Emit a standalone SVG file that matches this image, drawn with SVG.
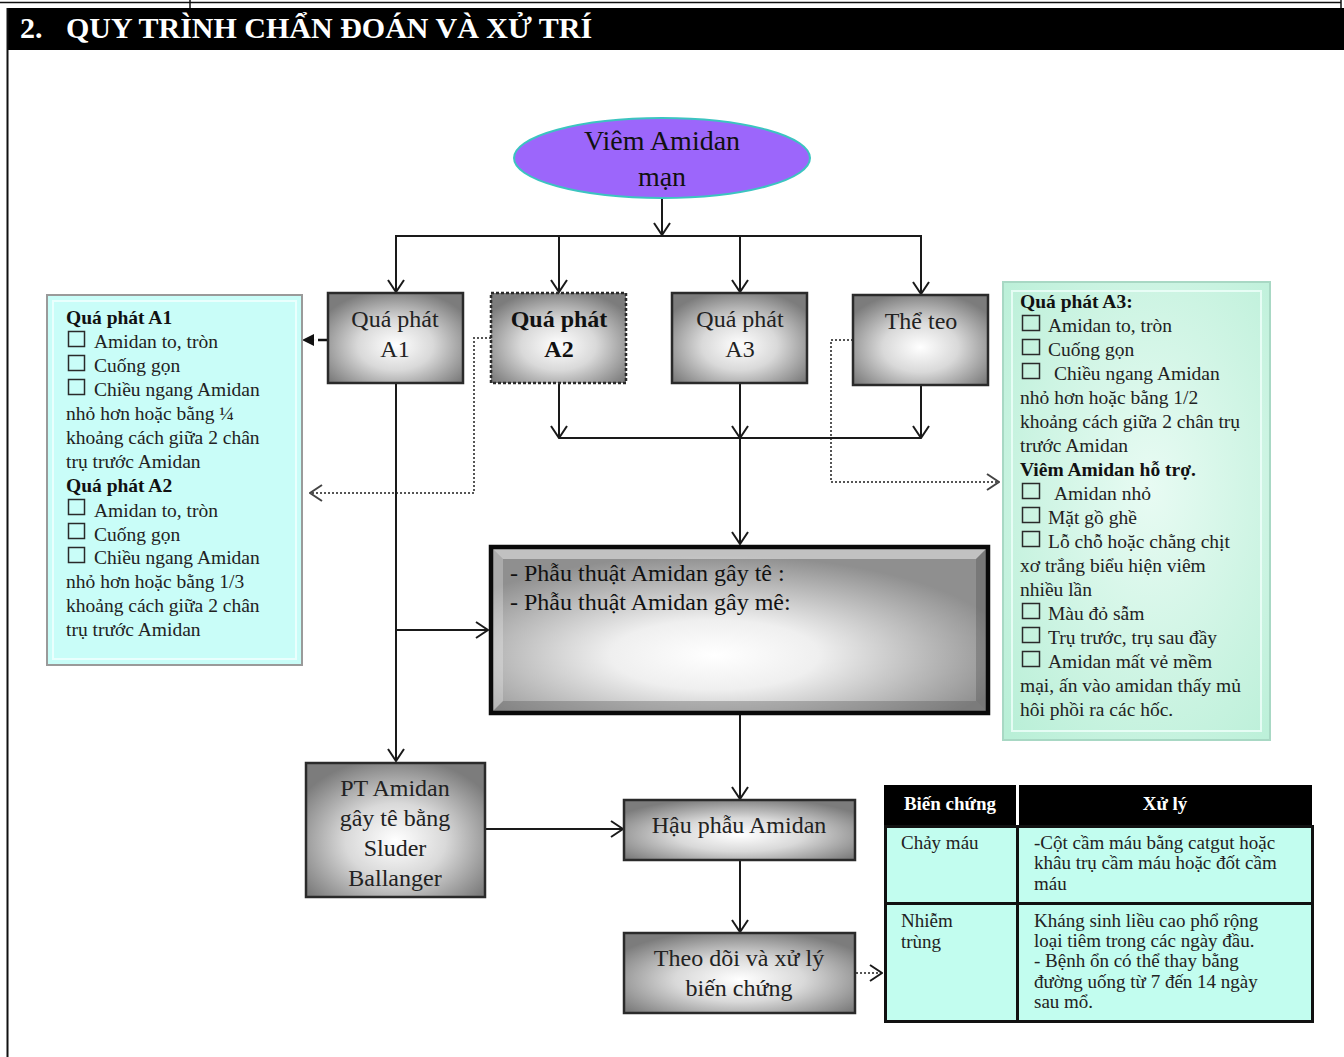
<svg xmlns="http://www.w3.org/2000/svg" width="1344" height="1057" viewBox="0 0 1344 1057">
  <style>
    text { font-family: "Liberation Serif", "Times New Roman", serif; fill: #1a1a1a; }
    .title { font-size: 30px; font-weight: bold; fill: #ffffff; }
    .oval { font-size: 28px; text-anchor: middle; fill: #111; }
    .box { font-size: 24px; text-anchor: middle; fill: #222; }
    .boxb { font-size: 24px; text-anchor: middle; font-weight: bold; fill: #111; }
    .main { font-size: 24px; fill: #111; }
    .note { font-size: 19.5px; fill: #222; }
    .noteb { font-size: 19.5px; font-weight: bold; fill: #111; }
    .th { font-size: 19px; font-weight: bold; fill: #ffffff; text-anchor: middle; }
    .td { font-size: 19px; fill: #222; }
    .gbox { fill: url(#boxGrad); stroke: #2a2a2a; stroke-width: 2.5; }
    .chk { fill: none; stroke: #2a2a2a; stroke-width: 1.5; }
    .link { fill: none; stroke: #1a1a1a; stroke-width: 2; }
    .dot { fill: none; stroke: #555; stroke-width: 2; stroke-dasharray: 2 2; }
    .cell { fill: #c2fdef; stroke: #111; stroke-width: 3; }
  </style>
  <defs>
    <radialGradient id="boxGrad" cx="50%" cy="58%" r="62%">
      <stop offset="0" stop-color="#ffffff"/>
      <stop offset="0.45" stop-color="#d9d9d9"/>
      <stop offset="1" stop-color="#7c7c7c"/>
    </radialGradient>
    <radialGradient id="mainGrad" cx="45%" cy="65%" r="60%">
      <stop offset="0" stop-color="#ffffff"/>
      <stop offset="0.35" stop-color="#efefef"/>
      <stop offset="1" stop-color="#8f8f8f"/>
    </radialGradient>
    <radialGradient id="mintGrad" cx="55%" cy="45%" r="75%">
      <stop offset="0" stop-color="#e8fbf3"/>
      <stop offset="1" stop-color="#b9efd7"/>
    </radialGradient>
    <marker id="arr" viewBox="0 0 14 18" refX="13" refY="9" markerWidth="14" markerHeight="18" markerUnits="userSpaceOnUse" orient="auto">
      <path d="M1,1 L13,9 L1,17" fill="none" stroke="#1a1a1a" stroke-width="2"/>
    </marker>
    <marker id="arrDot" viewBox="0 0 14 18" refX="13" refY="9" markerWidth="14" markerHeight="18" markerUnits="userSpaceOnUse" orient="auto">
      <path d="M1,1 L13,9 L1,17" fill="none" stroke="#444" stroke-width="2"/>
    </marker>
    <marker id="arrFill" viewBox="0 0 12 12" refX="11" refY="6" markerWidth="12" markerHeight="12" markerUnits="userSpaceOnUse" orient="auto">
      <path d="M0,0 L12,6 L0,12 Z" fill="#111"/>
    </marker>
  </defs>

  <rect width="1344" height="1057" fill="#ffffff"/>

  <!-- page frame and heading bar -->
  <g id="heading">
    <line x1="0" y1="2.5" x2="1341" y2="2.5" stroke="#111" stroke-width="1.5"/>
    <line x1="190" y1="0" x2="190" y2="8" stroke="#111" stroke-width="1.5"/>
    <line x1="1341" y1="0" x2="1341" y2="8" stroke="#111" stroke-width="1.5"/>
    <rect x="7" y="8" width="1337" height="42" fill="#000"/>
    <line x1="7.5" y1="8" x2="7.5" y2="1057" stroke="#111" stroke-width="2"/>
    <text class="title" x="20" y="38">2.</text>
    <text class="title" x="66" y="38">QUY TRÌNH CHẨN ĐOÁN VÀ XỬ TRÍ</text>
  </g>

  <!-- connectors -->
  <g id="connectors">
    <line class="link" x1="662" y1="198" x2="662" y2="235" marker-end="url(#arr)"/>
    <polyline class="link" points="396,292 396,236 921,236 921,293"/>
    <line class="link" x1="396" y1="236" x2="396" y2="292" marker-end="url(#arr)"/>
    <line class="link" x1="559" y1="236" x2="559" y2="292" marker-end="url(#arr)"/>
    <line class="link" x1="740" y1="236" x2="740" y2="292" marker-end="url(#arr)"/>
    <line class="link" x1="921" y1="236" x2="921" y2="294" marker-end="url(#arr)"/>

    <line x1="328" y1="340" x2="318" y2="340" stroke="#111" stroke-width="2.5"/>
    <line x1="316" y1="340" x2="303" y2="340" stroke="#111" stroke-width="0.1" marker-end="url(#arrFill)"/>

    <polyline class="dot" points="491,338 474,338 474,493 310,493" marker-end="url(#arrDot)"/>
    <polyline class="dot" points="853,340 831,340 831,482 999,482" marker-end="url(#arrDot)"/>

    <line class="link" x1="559" y1="383" x2="559" y2="438" marker-end="url(#arr)"/>
    <line class="link" x1="740" y1="383" x2="740" y2="438" marker-end="url(#arr)"/>
    <line class="link" x1="921" y1="385" x2="921" y2="438" marker-end="url(#arr)"/>
    <line class="link" x1="559" y1="438" x2="921" y2="438"/>
    <line class="link" x1="740" y1="438" x2="740" y2="544" marker-end="url(#arr)"/>

    <line class="link" x1="396" y1="383" x2="396" y2="761" marker-end="url(#arr)"/>
    <line class="link" x1="396" y1="630" x2="488" y2="630" marker-end="url(#arr)"/>

    <line class="link" x1="740" y1="715" x2="740" y2="799" marker-end="url(#arr)"/>
    <line class="link" x1="485" y1="829" x2="623" y2="829" marker-end="url(#arr)"/>
    <line class="link" x1="740" y1="860" x2="740" y2="932" marker-end="url(#arr)"/>
    <line class="dot" x1="856" y1="973" x2="882" y2="973" marker-end="url(#arr)"/>
  </g>

  <!-- start node -->
  <g id="start">
    <ellipse cx="662" cy="158" rx="148" ry="40" fill="#9c66fb" stroke="#3cc4c0" stroke-width="2"/>
    <text class="oval" x="662" y="150">Viêm Amidan</text>
    <text class="oval" x="662" y="186">mạn</text>
  </g>

  <g id="a1">
    <rect class="gbox" x="328" y="293" width="135" height="90"/>
    <text class="box" x="395" y="327">Quá phát</text>
    <text class="box" x="395" y="357">A1</text>
  </g>
  <g id="a2">
    <rect class="gbox" x="491" y="293" width="135" height="90" stroke-dasharray="3 2"/>
    <text class="boxb" x="559" y="327">Quá phát</text>
    <text class="boxb" x="559" y="357">A2</text>
  </g>
  <g id="a3">
    <rect class="gbox" x="672" y="293" width="135" height="90"/>
    <text class="box" x="740" y="327">Quá phát</text>
    <text class="box" x="740" y="357">A3</text>
  </g>
  <g id="atrophy">
    <rect class="gbox" x="853" y="295" width="135" height="90"/>
    <text class="box" x="921" y="329">Thể teo</text>
  </g>

  <!-- criteria for A1 / A2 -->
  <g id="criteria-a1-a2">
    <rect x="47" y="295" width="255" height="370" fill="#c9fdf8" stroke="#9a9a9a" stroke-width="2"/>
    <rect x="53" y="301" width="243" height="358" fill="none" stroke="#e9fffd" stroke-width="2"/>
    <text class="noteb" x="66" y="324">Quá phát A1</text>
    <rect class="chk" x="68.5" y="331.5" width="16" height="15"/>
    <text class="note" x="94" y="348">Amidan to, tròn</text>
    <rect class="chk" x="68.5" y="355.5" width="16" height="15"/>
    <text class="note" x="94" y="372">Cuống gọn</text>
    <rect class="chk" x="68.5" y="379.5" width="16" height="15"/>
    <text class="note" x="94" y="396">Chiều ngang Amidan</text>
    <text class="note" x="66" y="420">nhỏ hơn hoặc bằng ¼</text>
    <text class="note" x="66" y="444">khoảng cách giữa 2 chân</text>
    <text class="note" x="66" y="468">trụ trước Amidan</text>
    <text class="noteb" x="66" y="492">Quá phát A2</text>
    <rect class="chk" x="68.5" y="499.5" width="16" height="15"/>
    <text class="note" x="94" y="517">Amidan to, tròn</text>
    <rect class="chk" x="68.5" y="523.5" width="16" height="15"/>
    <text class="note" x="94" y="541">Cuống gọn</text>
    <rect class="chk" x="68.5" y="547.5" width="16" height="15"/>
    <text class="note" x="94" y="564">Chiều ngang Amidan</text>
    <text class="note" x="66" y="588">nhỏ hơn hoặc bằng 1/3</text>
    <text class="note" x="66" y="612">khoảng cách giữa 2 chân</text>
    <text class="note" x="66" y="636">trụ trước Amidan</text>
  </g>

  <!-- criteria for A3 / chronic atrophic -->
  <g id="criteria-a3">
    <rect x="1003" y="282" width="267" height="458" fill="url(#mintGrad)" stroke="#a8d8c4" stroke-width="2"/>
    <rect x="1012" y="291" width="249" height="440" fill="none" stroke="#effffa" stroke-width="2" opacity="0.8"/>
    <text class="noteb" x="1020" y="308">Quá phát A3:</text>
    <rect class="chk" x="1022.5" y="315.5" width="17" height="15"/>
    <text class="note" x="1048" y="332">Amidan to, tròn</text>
    <rect class="chk" x="1022.5" y="339.5" width="17" height="15"/>
    <text class="note" x="1048" y="356">Cuống gọn</text>
    <rect class="chk" x="1022.5" y="363.5" width="17" height="15"/>
    <text class="note" x="1054" y="380">Chiều ngang Amidan</text>
    <text class="note" x="1020" y="404">nhỏ hơn hoặc bằng 1/2</text>
    <text class="note" x="1020" y="428">khoảng cách giữa 2 chân trụ</text>
    <text class="note" x="1020" y="452">trước Amidan</text>
    <text class="noteb" x="1020" y="476">Viêm Amidan hỗ trợ.</text>
    <rect class="chk" x="1022.5" y="483.5" width="17" height="15"/>
    <text class="note" x="1054" y="500">Amidan nhỏ</text>
    <rect class="chk" x="1022.5" y="507.5" width="17" height="15"/>
    <text class="note" x="1048" y="524">Mặt gồ ghề</text>
    <rect class="chk" x="1022.5" y="531.5" width="17" height="15"/>
    <text class="note" x="1048" y="548">Lỗ chỗ hoặc chằng chịt</text>
    <text class="note" x="1020" y="572">xơ trắng biểu hiện viêm</text>
    <text class="note" x="1020" y="596">nhiều lần</text>
    <rect class="chk" x="1022.5" y="603.5" width="17" height="15"/>
    <text class="note" x="1048" y="620">Màu đỏ sẫm</text>
    <rect class="chk" x="1022.5" y="627.5" width="17" height="15"/>
    <text class="note" x="1048" y="644">Trụ trước, trụ sau đầy</text>
    <rect class="chk" x="1022.5" y="651.5" width="17" height="15"/>
    <text class="note" x="1048" y="668">Amidan mất vẻ mềm</text>
    <text class="note" x="1020" y="692">mại, ấn vào amidan thấy mủ</text>
    <text class="note" x="1020" y="716">hôi phồi ra các hốc.</text>
  </g>

  <!-- surgery node -->
  <g id="surgery">
    <rect x="491" y="547" width="497" height="166" fill="url(#mainGrad)"/>
    <polygon points="493,549 986,549 976,559 503,559" fill="#ffffff" opacity="0.45"/>
    <polygon points="493,711 986,711 976,701 503,701" fill="#555" opacity="0.35"/>
    <polygon points="493,549 503,559 503,701 493,711" fill="#ffffff" opacity="0.25"/>
    <polygon points="986,549 976,559 976,701 986,711" fill="#444" opacity="0.3"/>
    <rect x="491" y="547" width="497" height="166" fill="none" stroke="#0a0a0a" stroke-width="4.5"/>
    <text class="main" x="510" y="581">- Phẫu thuật Amidan gây tê :</text>
    <text class="main" x="510" y="610">- Phẫu thuật Amidan gây mê:</text>
  </g>

  <g id="sluder">
    <rect class="gbox" x="306" y="763" width="179" height="134"/>
    <text class="box" x="395" y="796">PT Amidan</text>
    <text class="box" x="395" y="826">gây tê bằng</text>
    <text class="box" x="395" y="856">Sluder</text>
    <text class="box" x="395" y="886">Ballanger</text>
  </g>
  <g id="postop">
    <rect class="gbox" x="624" y="800" width="231" height="60"/>
    <text class="box" x="739" y="833">Hậu phẫu Amidan</text>
  </g>
  <g id="followup">
    <rect class="gbox" x="624" y="933" width="231" height="80"/>
    <text class="box" x="739" y="966">Theo dõi và xử lý</text>
    <text class="box" x="739" y="996">biến chứng</text>
  </g>

  <!-- complications table -->
  <g id="complications">
    <rect x="884" y="785" width="132" height="40" fill="#000"/>
    <rect x="1019" y="785" width="293" height="40" fill="#000"/>
    <text class="th" x="950" y="810">Biến chứng</text>
    <text class="th" x="1165" y="810">Xử lý</text>
    <rect class="cell" x="885.5" y="826.5" width="132" height="77"/>
    <rect class="cell" x="1017.5" y="826.5" width="295" height="77"/>
    <rect class="cell" x="885.5" y="903.5" width="132" height="118"/>
    <rect class="cell" x="1017.5" y="903.5" width="295" height="118"/>
    <text class="td" x="901" y="849">Chảy máu</text>
    <text class="td" x="1034" y="849">-Cột cầm máu bằng catgut hoặc</text>
    <text class="td" x="1034" y="869">khâu trụ cầm máu hoặc đốt cầm</text>
    <text class="td" x="1034" y="890">máu</text>
    <text class="td" x="901" y="927">Nhiễm</text>
    <text class="td" x="901" y="948">trùng</text>
    <text class="td" x="1034" y="927">Kháng sinh liều cao phổ rộng</text>
    <text class="td" x="1034" y="947">loại tiêm trong các ngày đầu.</text>
    <text class="td" x="1034" y="967">- Bệnh ổn có thể thay bằng</text>
    <text class="td" x="1034" y="988">đường uống từ 7 đến 14 ngày</text>
    <text class="td" x="1034" y="1008">sau mổ.</text>
  </g>
</svg>
